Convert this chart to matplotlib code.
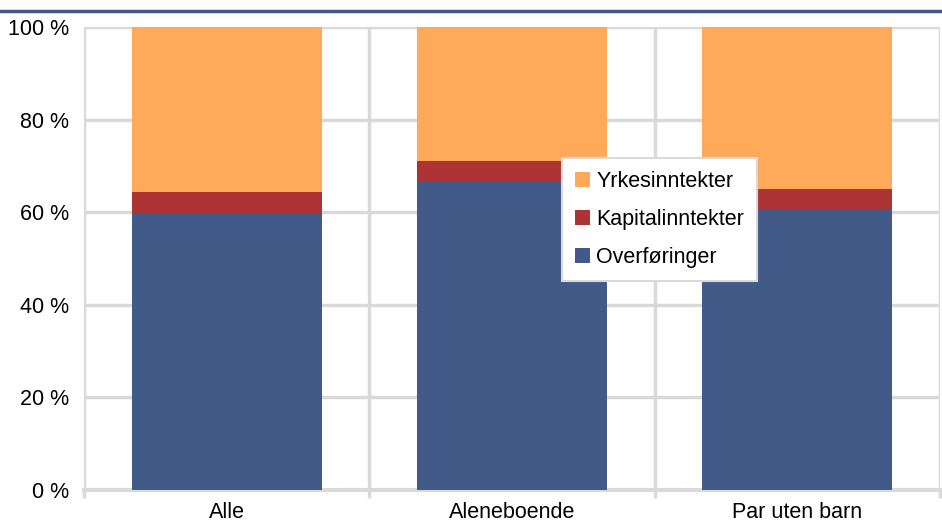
import matplotlib
matplotlib.use('Agg')
import matplotlib.pyplot as plt
import numpy as np

plt.rcParams['font.family'] = ['Liberation Sans', 'DejaVu Sans']

categories = ['Alle', 'Aleneboende', 'Par uten barn']
overforinger = [59.8, 66.5, 60.5]
kapital = [4.5, 4.6, 4.5]
yrke = [35.7, 28.9, 35.0]

c_blue = '#425A87'
c_red = '#AD3335'
c_orange = '#FFAA5A'
c_grid = '#D9D9D9'

fig = plt.figure(figsize=(9.42, 5.23), dpi=100)
ax = fig.add_axes([84 / 942, 33 / 523, (940 - 84) / 942, (490 - 27) / 523])

x = np.arange(len(categories))
w = 0.665
b1 = ax.bar(x, overforinger, w, color=c_blue, zorder=3, label='Overføringer')
b2 = ax.bar(x, kapital, w, bottom=overforinger, color=c_red, zorder=3, label='Kapitalinntekter')
bottom2 = np.array(overforinger) + np.array(kapital)
b3 = ax.bar(x, yrke, w, bottom=bottom2, color=c_orange, zorder=3, label='Yrkesinntekter')

ax.set_xlim(-0.5, 2.5)
ax.set_ylim(0, 100)
ax.set_yticks(range(0, 101, 20))
ax.set_yticklabels(['%d %%' % v for v in range(0, 101, 20)], fontsize=15.5)

# grid: horizontal lines and vertical category separators
for v in range(20, 101, 20):
    ax.axhline(v, color=c_grid, lw=2.5, zorder=1)
for v in [-0.5, 0.5, 1.5, 2.5]:
    ax.axvline(v, color=c_grid, lw=2.5, zorder=1)

ax.set_xticks(x)
ax.set_xticklabels(categories, fontsize=15.5)
ax.tick_params(axis='x', length=0, pad=9)
ax.set_xticks([-0.5, 0.5, 1.5, 2.5], minor=True)
ax.tick_params(axis='x', which='minor', length=6, width=2.5, color=c_grid)
ax.tick_params(axis='y', length=0, pad=11)

for s in ['top', 'right', 'left']:
    ax.spines[s].set_visible(False)
ax.spines['bottom'].set_color(c_grid)
ax.spines['bottom'].set_linewidth(3)
ax.spines['bottom'].set_zorder(2)

handles = [b3, b2, b1]
labels = ['Yrkesinntekter', 'Kapitalinntekter', 'Overføringer']
leg = ax.legend(handles, labels, loc='upper left',
                bbox_to_anchor=(562 / 942, 1 - 158 / 523), bbox_transform=fig.transFigure,
                fontsize=15.5, frameon=True, fancybox=False, edgecolor=c_grid, framealpha=1,
                handlelength=0.7, handleheight=0.7, handletextpad=0.3,
                labelspacing=0.8, borderpad=0.6, borderaxespad=0)
leg.get_frame().set_linewidth(1.5)
leg.set_zorder(5)

# top border line of the figure
fig.add_artist(plt.Line2D([0, 1], [1 - 11 / 523, 1 - 11 / 523], color='#3F5B8C', lw=2.5,
                          transform=fig.transFigure))

fig.savefig('out.png', dpi=100)
